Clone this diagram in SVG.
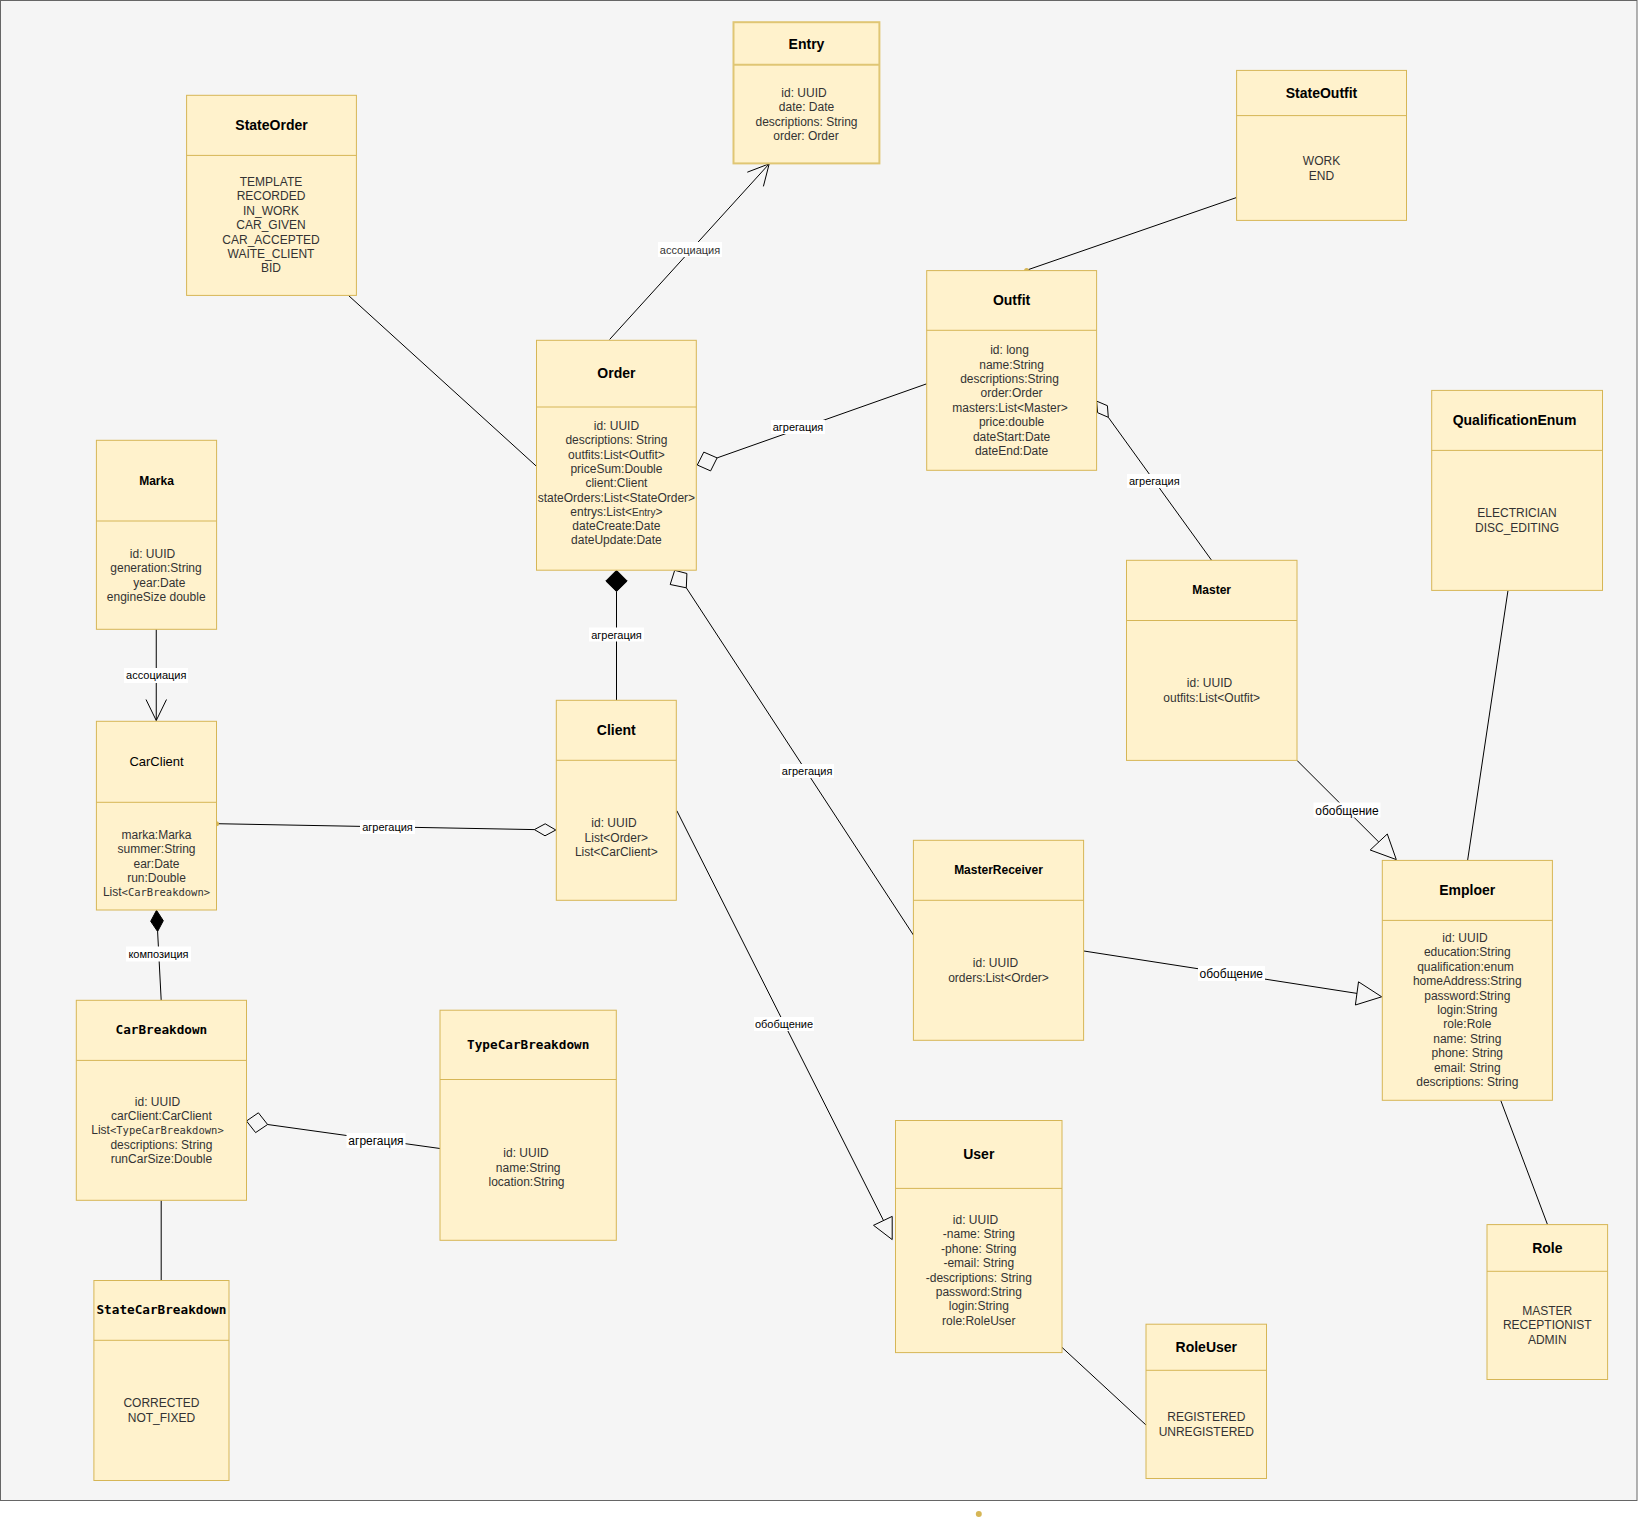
<svg xmlns="http://www.w3.org/2000/svg" width="1638" height="1535" viewBox="0 0 1638 1535">
<defs>
<style>
.bg{fill:#f5f5f5;stroke:#666666;stroke-width:1}
.box{fill:#fff2cc;stroke:#d6b656;stroke-width:1}
.t{font-family:"Liberation Sans",Arial,Helvetica,sans-serif;font-size:12px;fill:#333333;text-anchor:middle}
.h{font-family:"Liberation Sans",Arial,Helvetica,sans-serif;font-size:14px;font-weight:bold;fill:#000000;text-anchor:middle}
.hs{font-family:"Liberation Sans",Arial,Helvetica,sans-serif;font-size:12px;font-weight:bold;fill:#000000;text-anchor:middle}
.hr{font-family:"Liberation Sans",Arial,Helvetica,sans-serif;font-size:13px;fill:#000000;text-anchor:middle}
.hm{font-family:"DejaVu Sans Mono","Liberation Mono",monospace;font-size:12.7px;font-weight:bold;fill:#000000;text-anchor:middle}
.m{font-family:"DejaVu Sans Mono","Liberation Mono",monospace;font-size:10.5px}
.ms{font-size:10px}
.ln{stroke:#000000;stroke-width:1;fill:none}
.fill{fill:#000000;stroke:#000000;stroke-width:1}
.hollow{fill:none;stroke:#000000;stroke-width:1}
.lb{fill:#ffffff}
.l{font-family:"Liberation Sans",Arial,Helvetica,sans-serif;font-size:11px;fill:#000000;text-anchor:middle}
.l12{font-family:"Liberation Sans",Arial,Helvetica,sans-serif;font-size:12px;fill:#000000;text-anchor:middle}
.dot{fill:#d6b656}
</style>
</defs>
<rect x="0" y="0" width="1638" height="1535" fill="#ffffff"/>
<rect class="bg" x="0.5" y="0.5" width="1636.5" height="1500"/>

<g id="connectors">
  <!-- StateOrder - Order -->
  <line class="ln" x1="348.4" y1="295.4" x2="536.7" y2="466.5"/>
  <!-- Order -> Entry association -->
  <line class="ln" x1="609.6" y1="339.5" x2="769.2" y2="163.8"/>
  <polyline class="ln" points="747.3,172.2 769.2,163.8 763.4,186.4"/>
  <rect class="lb" x="658" y="242" width="64" height="15"/>
  <text class="l" x="690" y="253.5" style="fill:#333333">ассоциация</text>
  <!-- Order - Outfit aggregation -->
  <polygon class="hollow" points="697.3,465 703.8,452.1 717.1,457.9 710.6,470.9"/>
  <line class="ln" x1="717.1" y1="457.9" x2="926.7" y2="383.8"/>
  <rect class="lb" x="771" y="420" width="54" height="14"/>
  <text class="l" x="798" y="431.3">агрегация</text>
  <!-- Outfit - StateOutfit -->
  <line class="ln" x1="1026.6" y1="270.2" x2="1236.6" y2="197.5"/>
  <circle class="dot" cx="1026.6" cy="270.4" r="2.5"/>
  <!-- Outfit - Master aggregation -->
  <polygon class="hollow" points="1096.6,401.1 1107.4,405.7 1108.3,417.3 1097.6,412.7"/>
  <line class="ln" x1="1108.3" y1="417.3" x2="1211.6" y2="560.3"/>
  <rect class="lb" x="1127" y="474" width="54" height="14"/>
  <text class="l" x="1154.3" y="485.2">агрегация</text>
  <!-- Marka -> CarClient association -->
  <line class="ln" x1="156.25" y1="629.3" x2="156.25" y2="720.5"/>
  <polyline class="ln" points="146,699.5 156.25,720.5 166.5,699.5"/>
  <rect class="lb" x="124" y="668" width="64" height="15"/>
  <text class="l" x="156.25" y="679.3">ассоциация</text>
  <!-- Order - Client (filled diamond) -->
  <polygon class="fill" points="616.5,570.3 627.2,581 616.5,591.6 605.8,581"/>
  <line class="ln" x1="616.5" y1="591.6" x2="616.5" y2="700.3"/>
  <rect class="lb" x="589" y="627.5" width="55" height="14"/>
  <text class="l" x="616.5" y="638.6">агрегация</text>
  <!-- CarClient - Client aggregation -->
  <line class="ln" x1="216.5" y1="823.7" x2="534.4" y2="829.6"/>
  <polygon class="hollow" points="555.8,830 545.2,823.8 534.4,829.6 545,835.8"/>
  <circle class="dot" cx="216.5" cy="823.7" r="2.5"/>
  <rect class="lb" x="360" y="820" width="55" height="14"/>
  <text class="l" x="387.5" y="831.2">агрегация</text>
  <!-- Order - MasterReceiver aggregation -->
  <polygon class="hollow" points="674.7,570.3 686.9,573.5 686.3,587.8 670.2,584.5"/>
  <line class="ln" x1="686.3" y1="587.8" x2="913.4" y2="935"/>
  <rect class="lb" x="780" y="764" width="54" height="14"/>
  <text class="l" x="807.1" y="775.2">агрегация</text>
  <!-- Master -> Emploer generalization -->
  <line class="ln" x1="1297" y1="760.4" x2="1378.75" y2="842"/>
  <polygon class="hollow" points="1396.3,859.6 1370.2,850 1387.3,834"/>
  <rect class="lb" x="1313.5" y="802.5" width="67" height="15"/>
  <text class="l12" x="1347" y="814.6">обобщение</text>
  <!-- QualificationEnum - Emploer -->
  <line class="ln" x1="1508" y1="590.4" x2="1467.6" y2="860.4"/>
  <!-- MasterReceiver -> Emploer generalization -->
  <line class="ln" x1="1083.9" y1="951" x2="1357" y2="993.4"/>
  <polygon class="hollow" points="1381.7,996.8 1355.4,1005 1358.5,981.8"/>
  <rect class="lb" x="1198" y="966" width="67" height="15"/>
  <text class="l12" x="1231.3" y="978">обобщение</text>
  <!-- Client -> User generalization -->
  <line class="ln" x1="676.8" y1="810.7" x2="883.5" y2="1220.5"/>
  <polygon class="hollow" points="873.5,1225.3 892.2,1216.4 892.2,1239.6"/>
  <rect class="lb" x="754" y="1017" width="60" height="14"/>
  <text class="l" x="784" y="1028">обобщение</text>
  <!-- CarClient - CarBreakdown composition -->
  <polygon class="fill" points="156.5,910.3 163.3,920.7 157.6,931.5 150.7,921.3"/>
  <line class="ln" x1="157.6" y1="931.5" x2="161.2" y2="1000.3"/>
  <rect class="lb" x="126" y="946.5" width="65" height="15"/>
  <text class="l" x="158.5" y="957.9">композиция</text>
  <!-- CarBreakdown - TypeCarBreakdown aggregation -->
  <polygon class="hollow" points="246.5,1121 258.4,1112.8 267.6,1124.5 255.6,1132.6"/>
  <line class="ln" x1="267.6" y1="1124.5" x2="440" y2="1148.5"/>
  <rect class="lb" x="346.5" y="1133" width="59" height="15"/>
  <text class="l12" x="376" y="1144.8">агрегация</text>
  <!-- CarBreakdown - StateCarBreakdown -->
  <line class="ln" x1="161.2" y1="1200.3" x2="161.2" y2="1280.5"/>
  <!-- Emploer - Role -->
  <line class="ln" x1="1500.7" y1="1100.3" x2="1547.5" y2="1224.6"/>
  <!-- User - RoleUser -->
  <line class="ln" x1="1062" y1="1347.4" x2="1146" y2="1425"/>
</g>

<g id="Entry">
  <rect class="box" x="733.5" y="22.2" width="145.9" height="141.2" style="stroke-width:2;stroke:#e0c674"/>
  <line class="box" x1="733.5" y1="64.7" x2="879.4" y2="64.7" style="stroke-width:2;stroke:#e0c674"/>
  <text class="h" x="806.5" y="49">Entry</text>
  <text class="t"><tspan x="804" y="96.9">id: UUID</tspan><tspan x="806.5" y="111.1">date: Date</tspan><tspan x="806.5" y="126">descriptions: String</tspan><tspan x="806" y="140.2">order: Order</tspan></text>
</g>

<g id="StateOrder">
  <rect class="box" x="186.6" y="95.3" width="169.8" height="200.1"/>
  <line class="box" x1="186.6" y1="155.4" x2="356.4" y2="155.4"/>
  <text class="h" x="271.5" y="130.1">StateOrder</text>
  <text class="t"><tspan x="271" y="185.7">TEMPLATE</tspan><tspan x="271" y="200.4">RECORDED</tspan><tspan x="271" y="214.8">IN_WORK</tspan><tspan x="271" y="228.9">CAR_GIVEN</tspan><tspan x="271" y="243.9">CAR_ACCEPTED</tspan><tspan x="271" y="258">WAITE_CLIENT</tspan><tspan x="271" y="272.2">BID</tspan></text>
</g>

<g id="Order">
  <rect class="box" x="536.5" y="340.3" width="159.8" height="229.9"/>
  <line class="box" x1="536.5" y1="407" x2="696.3" y2="407"/>
  <text class="h" x="616.4" y="378.3">Order</text>
  <text class="t"><tspan x="616.4" y="430">id: UUID</tspan><tspan x="616.4" y="444.3">descriptions: String</tspan><tspan x="616.4" y="458.6">outfits:List&lt;Outfit&gt;</tspan><tspan x="616.4" y="472.9">priceSum:Double</tspan><tspan x="616.4" y="487.2">client:Client</tspan><tspan x="616.4" y="501.5">stateOrders:List&lt;StateOrder&gt;</tspan><tspan x="616.4" y="515.8">entrys:List&lt;<tspan class="ms">Entry</tspan>&gt;</tspan><tspan x="616.4" y="530.1">dateCreate:Date</tspan><tspan x="616.4" y="544.4">dateUpdate:Date</tspan></text>
</g>

<g id="Marka">
  <rect class="box" x="96.4" y="440.3" width="120.2" height="189"/>
  <line class="box" x1="96.4" y1="521" x2="216.6" y2="521"/>
  <text class="hs" x="156.5" y="485">Marka</text>
  <text class="t"><tspan x="152.5" y="557.9">id: UUID</tspan><tspan x="156" y="572.1">generation:String</tspan><tspan x="159.3" y="586.7">year:Date</tspan><tspan x="156.2" y="600.9">engineSize double</tspan></text>
</g>

<g id="CarClient">
  <rect class="box" x="96.4" y="721.3" width="120.1" height="188.7"/>
  <line class="box" x1="96.4" y1="802.3" x2="216.5" y2="802.3"/>
  <text class="hr" x="156.5" y="766.3">CarClient</text>
  <text class="t"><tspan x="156.5" y="839">marka:Marka</tspan><tspan x="156.5" y="853">summer:String</tspan><tspan x="156.5" y="868">ear:Date</tspan><tspan x="156.5" y="882">run:Double</tspan><tspan x="156.5" y="896">List<tspan class="m">&lt;CarBreakdown&gt;</tspan></tspan></text>
</g>

<g id="Client">
  <rect class="box" x="556.3" y="700.3" width="120" height="200"/>
  <line class="box" x1="556.3" y1="760.3" x2="676.3" y2="760.3"/>
  <text class="h" x="616.3" y="735.3">Client</text>
  <text class="t"><tspan x="614" y="827">id: UUID</tspan><tspan x="616.3" y="841.6">List&lt;Order&gt;</tspan><tspan x="616.3" y="856">List&lt;CarClient&gt;</tspan></text>
</g>

<g id="CarBreakdown">
  <rect class="box" x="76.3" y="1000.3" width="170.2" height="200"/>
  <line class="box" x1="76.3" y1="1060.4" x2="246.5" y2="1060.4"/>
  <text class="hm" x="161.4" y="1034.3">CarBreakdown</text>
  <text class="t"><tspan x="157.5" y="1105.7">id: UUID</tspan><tspan x="161.4" y="1120">carClient:CarClient</tspan><tspan x="157.5" y="1134.3">List<tspan class="m">&lt;TypeCarBreakdown&gt;</tspan></tspan><tspan x="161.4" y="1148.7">descriptions: String</tspan><tspan x="161.4" y="1163">runCarSize:Double</tspan></text>
</g>

<g id="TypeCarBreakdown">
  <rect class="box" x="440" y="1010.2" width="176.3" height="230.1"/>
  <line class="box" x1="440" y1="1079.5" x2="616.3" y2="1079.5"/>
  <text class="hm" x="528.2" y="1049.3">TypeCarBreakdown</text>
  <text class="t"><tspan x="526" y="1156.9">id: UUID</tspan><tspan x="528.2" y="1171.9">name:String</tspan><tspan x="526.5" y="1185.9">location:String</tspan></text>
</g>

<g id="StateCarBreakdown">
  <rect class="box" x="93.9" y="1280.5" width="135.1" height="200"/>
  <line class="box" x1="93.9" y1="1340.3" x2="229" y2="1340.3"/>
  <text class="hm" x="161.4" y="1314.2">StateCarBreakdown</text>
  <text class="t"><tspan x="161.4" y="1407">CORRECTED</tspan><tspan x="161.4" y="1422">NOT_FIXED</tspan></text>
</g>

<g id="StateOutfit">
  <rect class="box" x="1236.6" y="70.4" width="169.9" height="150"/>
  <line class="box" x1="1236.6" y1="115.6" x2="1406.5" y2="115.6"/>
  <text class="h" x="1321.5" y="98">StateOutfit</text>
  <text class="t"><tspan x="1321.5" y="165">WORK</tspan><tspan x="1321.5" y="180">END</tspan></text>
</g>

<g id="Outfit">
  <rect class="box" x="926.7" y="270.6" width="169.9" height="199.7"/>
  <line class="box" x1="926.7" y1="330.3" x2="1096.6" y2="330.3"/>
  <text class="h" x="1011.6" y="305">Outfit</text>
  <text class="t"><tspan x="1009.5" y="354.1">id: long</tspan><tspan x="1011.6" y="368.5">name:String</tspan><tspan x="1009.5" y="382.9">descriptions:String</tspan><tspan x="1011.6" y="397.3">order:Order</tspan><tspan x="1010" y="411.7">masters:List&lt;Master&gt;</tspan><tspan x="1011.6" y="426.1">price:double</tspan><tspan x="1011.6" y="440.5">dateStart:Date</tspan><tspan x="1011.6" y="454.9">dateEnd:Date</tspan></text>
</g>

<g id="Master">
  <rect class="box" x="1126.5" y="560.3" width="170.5" height="200.1"/>
  <line class="box" x1="1126.5" y1="620.5" x2="1297" y2="620.5"/>
  <text class="hs" x="1211.7" y="594">Master</text>
  <text class="t"><tspan x="1209.5" y="687">id: UUID</tspan><tspan x="1211.7" y="701.6">outfits:List&lt;Outfit&gt;</tspan></text>
</g>

<g id="QualificationEnum">
  <rect class="box" x="1431.7" y="390.4" width="170.8" height="200"/>
  <line class="box" x1="1431.7" y1="450.4" x2="1602.5" y2="450.4"/>
  <text class="h" x="1514.5" y="425.2">QualificationEnum</text>
  <text class="t"><tspan x="1517" y="517.1">ELECTRICIAN</tspan><tspan x="1517" y="532">DISC_EDITING</tspan></text>
</g>

<g id="MasterReceiver">
  <rect class="box" x="913.4" y="840.3" width="170.2" height="200"/>
  <line class="box" x1="913.4" y1="900.3" x2="1083.6" y2="900.3"/>
  <text class="hs" x="998.5" y="874">MasterReceiver</text>
  <text class="t"><tspan x="995.5" y="967">id: UUID</tspan><tspan x="998.5" y="981.6">orders:List&lt;Order&gt;</tspan></text>
</g>

<g id="Emploer">
  <rect class="box" x="1382.3" y="860.4" width="170.1" height="239.9"/>
  <line class="box" x1="1382.3" y1="920.4" x2="1552.4" y2="920.4"/>
  <text class="h" x="1467.3" y="895">Emploer</text>
  <text class="t"><tspan x="1465" y="941.8">id: UUID</tspan><tspan x="1467.3" y="956.2">education:String</tspan><tspan x="1465.5" y="970.7">qualification:enum</tspan><tspan x="1467.3" y="985.1">homeAddress:String</tspan><tspan x="1467.3" y="999.5">password:String</tspan><tspan x="1467.3" y="1014">login:String</tspan><tspan x="1467.3" y="1028.4">role:Role</tspan><tspan x="1467.3" y="1042.8">name: String</tspan><tspan x="1467.3" y="1057.3">phone: String</tspan><tspan x="1467.3" y="1071.7">email: String</tspan><tspan x="1467.3" y="1086.1">descriptions: String</tspan></text>
</g>

<g id="User">
  <rect class="box" x="895.5" y="1120.5" width="166.5" height="232.1"/>
  <line class="box" x1="895.5" y1="1188.4" x2="1062" y2="1188.4"/>
  <text class="h" x="978.8" y="1159">User</text>
  <text class="t"><tspan x="975.5" y="1223.8">id: UUID</tspan><tspan x="978.8" y="1238.1">-name: String</tspan><tspan x="978.8" y="1252.9">-phone: String</tspan><tspan x="978.8" y="1267">-email: String</tspan><tspan x="978.8" y="1282">-descriptions: String</tspan><tspan x="978.8" y="1296">password:String</tspan><tspan x="978.8" y="1310">login:String</tspan><tspan x="978.8" y="1325">role:RoleUser</tspan></text>
</g>

<g id="RoleUser">
  <rect class="box" x="1146" y="1324.2" width="120.5" height="154.3"/>
  <line class="box" x1="1146" y1="1370.3" x2="1266.5" y2="1370.3"/>
  <text class="h" x="1206.3" y="1352">RoleUser</text>
  <text class="t"><tspan x="1206.3" y="1421">REGISTERED</tspan><tspan x="1206.3" y="1436">UNREGISTERED</tspan></text>
</g>

<g id="Role">
  <rect class="box" x="1487" y="1224.6" width="120.6" height="154.9"/>
  <line class="box" x1="1487" y1="1271.3" x2="1607.6" y2="1271.3"/>
  <text class="h" x="1547.3" y="1253">Role</text>
  <text class="t"><tspan x="1547.3" y="1314.9">MASTER</tspan><tspan x="1547.3" y="1329.2">RECEPTIONIST</tspan><tspan x="1547.3" y="1343.9">ADMIN</tspan></text>
</g>

<circle class="dot" cx="978.8" cy="1514" r="3"/>
</svg>
